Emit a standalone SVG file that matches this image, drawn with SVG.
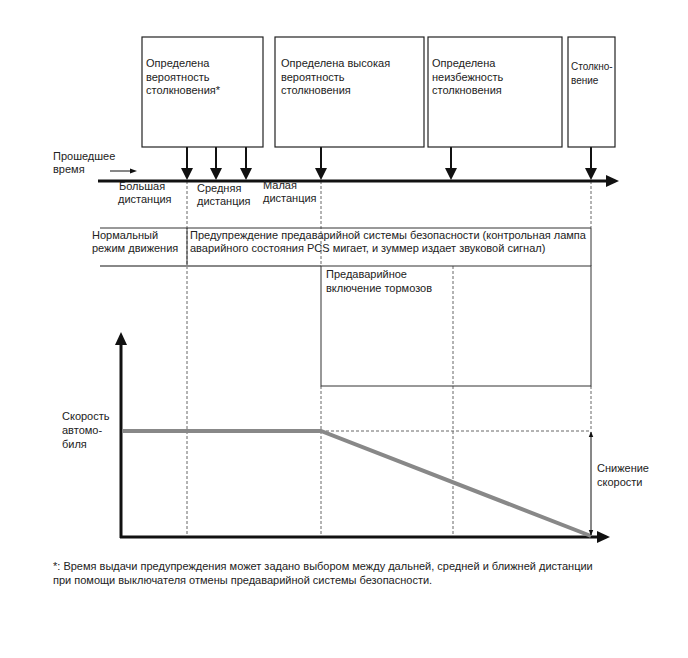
<svg xmlns="http://www.w3.org/2000/svg" width="688" height="658" viewBox="0 0 688 658">
<defs>
<style>
text{font-family:"Liberation Sans",Arial,sans-serif;font-size:11px;fill:#222}
.box{fill:#fff;stroke:#222;stroke-width:1.2}
.stem{stroke:#111;stroke-width:2}
.dash{stroke:#666;stroke-width:1;stroke-dasharray:3,2;fill:none}
.thin{stroke:#333;stroke-width:1;fill:none}
</style>
<marker id="sm" viewBox="0 0 10 10" refX="9" refY="5" markerWidth="6" markerHeight="6" orient="auto-start-reverse"><path d="M0,1 L10,5 L0,9 z" fill="#111"/></marker>
</defs>
<rect width="688" height="658" fill="#fff"/>

<g id="connectors">
<line class="dash" x1="187" y1="181" x2="187" y2="537"/>
<line class="dash" x1="321" y1="181" x2="321" y2="266"/>
<line class="dash" x1="321" y1="386" x2="321" y2="537"/>
<line class="dash" x1="591" y1="181" x2="591" y2="228"/>
<line class="dash" x1="591" y1="386" x2="591" y2="431"/>
<line class="dash" x1="453" y1="266" x2="453" y2="537"/>
<line class="dash" x1="321" y1="431" x2="591" y2="431"/>
<line class="stem" x1="187" y1="147" x2="187" y2="169"/>
<line class="stem" x1="216" y1="147" x2="216" y2="169"/>
<line class="stem" x1="246" y1="147" x2="246" y2="169"/>
<line class="stem" x1="321" y1="147" x2="321" y2="169"/>
<line class="stem" x1="451" y1="147" x2="451" y2="169"/>
<line class="stem" x1="591" y1="147" x2="591" y2="169"/>
<path d="M181,168 L193,168 L187,180 z M210,168 L222,168 L216,180 z M240,168 L252,168 L246,180 z M315,168 L327,168 L321,180 z M445,168 L457,168 L451,180 z M585,168 L597,168 L591,180 z" fill="#111"/>
<line x1="98" y1="181" x2="609" y2="181" stroke="#111" stroke-width="3"/>
<path d="M606,175 L619,181 L606,187 z" fill="#111"/>
<line x1="110" y1="171" x2="132" y2="171" stroke="#111" stroke-width="1"/>
<path d="M130,168.5 L137,171 L130,173.5 z" fill="#111"/>
<line x1="121" y1="342" x2="121" y2="538" stroke="#111" stroke-width="3"/>
<path d="M115,345 L121,332 L127,345 z" fill="#111"/>
<line x1="120" y1="537" x2="600" y2="537" stroke="#111" stroke-width="3"/>
<path d="M597,531 L610,537 L597,543 z" fill="#111"/>
<polyline points="122,431 321,431 591,536" fill="none" stroke="#888" stroke-width="4"/>
<line x1="591" y1="432" x2="591" y2="535" stroke="#111" stroke-width="1" marker-start="url(#sm)" marker-end="url(#sm)"/>
</g>

<g id="box1"><rect class="box" x="142" y="37" width="121" height="110"/>
<text x="146" y="67">Определена</text><text x="146" y="81">вероятность</text><text x="146" y="94">столкновения*</text></g>
<g id="box2"><rect class="box" x="275" y="37" width="149" height="110"/>
<text x="281" y="67">Определена высокая</text><text x="281" y="81">вероятность</text><text x="281" y="94">столкновения</text></g>
<g id="box3"><rect class="box" x="428" y="37" width="134" height="110"/>
<text x="432" y="67">Определена</text><text x="432" y="81">неизбежность</text><text x="432" y="94">столкновения</text></g>
<g id="box4"><rect class="box" x="568" y="37" width="47" height="110"/>
<text x="571" y="70" style="font-size:10px">Столкно-</text><text x="571" y="84" style="font-size:10px">вение</text></g>

<g id="elapsed"><text x="53" y="160">Прошедшее</text><text x="53" y="173">время</text></g>
<g id="dist-large"><text x="119" y="190">Большая</text><text x="118" y="203">дистанция</text></g>
<g id="dist-medium"><text x="197" y="192">Средняя</text><text x="197" y="205">дистанция</text></g>
<g id="dist-small"><text x="263" y="189">Малая</text><text x="263" y="202">дистанция</text></g>

<g id="row-warning">
<line class="thin" x1="100" y1="228" x2="591" y2="228"/>
<line class="thin" x1="187" y1="228" x2="187" y2="266"/>
<line class="thin" x1="591" y1="228" x2="591" y2="266"/>
<line x1="100" y1="266" x2="321" y2="266" stroke="#888" stroke-width="2"/>
<text x="92" y="239">Нормальный</text><text x="92" y="252">режим движения</text>
<text x="190" y="239">Предупреждение предаварийной системы безопасности (контрольная лампа</text>
<text x="190" y="252">аварийного состояния PCS мигает, и зуммер издает звуковой сигнал)</text>
</g>
<g id="brake"><rect class="thin" x="321" y="266" width="270" height="120"/>
<text x="326" y="278">Предаварийное</text><text x="326" y="292">включение тормозов</text></g>

<g id="speed-label"><text x="62" y="420">Скорость</text><text x="62" y="434">автомо-</text><text x="62" y="448">биля</text></g>
<g id="reduction-label"><text x="597" y="472">Снижение</text><text x="597" y="486">скорости</text></g>

<g id="footnote"><text x="53" y="570">*: Время выдачи предупреждения может задано выбором между дальней, средней и ближней дистанции</text>
<text x="53" y="584">при помощи выключателя отмены предаварийной системы безопасности.</text></g>
</svg>
